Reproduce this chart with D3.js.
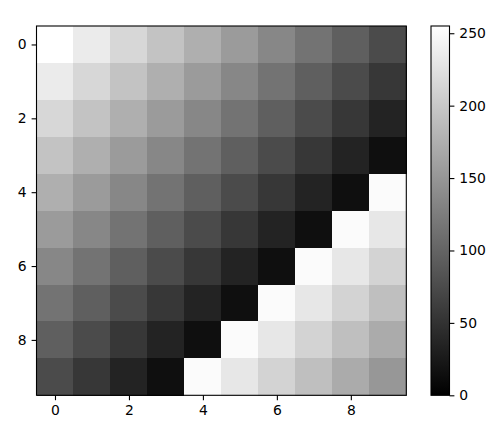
<!DOCTYPE html>
<html>
<head>
<meta charset="utf-8">
<script src="https://cdn.jsdelivr.net/npm/d3@7"></script>
<style>
  body { margin: 0; background: #fff; }
  svg text { font-family: "DejaVu Sans", sans-serif; font-size: 13.9px; fill: #000; }
</style>
</head>
<body>
<svg id="chart" width="503" height="431"></svg>
<script>
// image values, one row per y index
var rows = [0, 1, 2, 3, 4, 5, 6, 7, 8, 9];
var cols = [0, 1, 2, 3, 4, 5, 6, 7, 8, 9];
var values = [
  [255, 235, 215, 195, 175, 155, 135, 115, 95, 75],
  [235, 215, 195, 175, 155, 135, 115, 95, 75, 55],
  [215, 195, 175, 155, 135, 115, 95, 75, 55, 35],
  [195, 175, 155, 135, 115, 95, 75, 55, 35, 15],
  [175, 155, 135, 115, 95, 75, 55, 35, 15, 251],
  [155, 135, 115, 95, 75, 55, 35, 15, 251, 231],
  [135, 115, 95, 75, 55, 35, 15, 251, 231, 211],
  [115, 95, 75, 55, 35, 15, 251, 231, 211, 191],
  [95, 75, 55, 35, 15, 251, 231, 211, 191, 171],
  [75, 55, 35, 15, 251, 231, 211, 191, 171, 151]
];
var axisTicks = [0, 2, 4, 6, 8];
var colorTicks = [0, 50, 100, 150, 200, 250];
var vmin = 0, vmax = 255;

(function() {
  var svg = d3.select("#chart");
  // note: "top" clashes with window.top, so keep these local
  var m = {left: 36.5, right: 406.3, top: 26, bottom: 395.3};

  var x = d3.scaleLinear().domain([-0.5, 9.5]).range([m.left, m.right]);
  var y = d3.scaleLinear().domain([-0.5, 9.5]).range([m.top, m.bottom]);
  var gray = d3.scaleLinear().domain([vmin, vmax]).range(["#000000", "#ffffff"]).clamp(true);

  var cells = [];
  rows.forEach(function(r) {
    cols.forEach(function(c) { cells.push({r: r, c: c, v: values[r][c]}); });
  });

  svg.append("g").selectAll("rect").data(cells).enter().append("rect")
    .attr("x", function(d) { return x(d.c - 0.5); })
    .attr("y", function(d) { return y(d.r - 0.5); })
    .attr("width", x(1) - x(0) + 0.5)
    .attr("height", y(1) - y(0) + 0.5)
    .attr("fill", function(d) { return gray(d.v); })
    .attr("shape-rendering", "crispEdges");

  function styleAxis(g) {
    g.select(".domain").remove();
    g.selectAll(".tick line").attr("stroke", "#000").attr("stroke-width", 1.1);
    g.selectAll(".tick text").attr("font-family", null).attr("font-size", null);
  }

  svg.append("g").attr("transform", "translate(0," + m.bottom + ")")
    .call(d3.axisBottom(x).tickValues(axisTicks).tickSize(4.9).tickPadding(4.9).tickFormat(d3.format("d")))
    .call(styleAxis);

  svg.append("g").attr("transform", "translate(" + m.left + ",0)")
    .call(d3.axisLeft(y).tickValues(axisTicks).tickSize(4.9).tickPadding(4.9).tickFormat(d3.format("d")))
    .call(styleAxis);

  svg.append("rect")
    .attr("x", m.left).attr("y", m.top)
    .attr("width", m.right - m.left).attr("height", m.bottom - m.top)
    .attr("fill", "none").attr("stroke", "#000").attr("stroke-width", 1.1);

  // colorbar
  var cbLeft = 431, cbRight = 449.5;
  var cy = d3.scaleLinear().domain([vmin, vmax]).range([m.bottom, m.top]);

  var grad = svg.append("defs").append("linearGradient")
    .attr("id", "cbgrad").attr("x1", 0).attr("y1", 1).attr("x2", 0).attr("y2", 0);
  grad.append("stop").attr("offset", "0%").attr("stop-color", gray(vmin));
  grad.append("stop").attr("offset", "100%").attr("stop-color", gray(vmax));

  svg.append("rect")
    .attr("x", cbLeft).attr("y", m.top)
    .attr("width", cbRight - cbLeft).attr("height", m.bottom - m.top)
    .attr("fill", "url(#cbgrad)");

  svg.append("g").attr("transform", "translate(" + cbRight + ",0)")
    .call(d3.axisRight(cy).tickValues(colorTicks).tickSize(4.9).tickPadding(4.9).tickFormat(d3.format("d")))
    .call(styleAxis);

  svg.append("rect")
    .attr("x", cbLeft).attr("y", m.top)
    .attr("width", cbRight - cbLeft).attr("height", m.bottom - m.top)
    .attr("fill", "none").attr("stroke", "#000").attr("stroke-width", 1.1);
})();
</script>
</body>
</html>
